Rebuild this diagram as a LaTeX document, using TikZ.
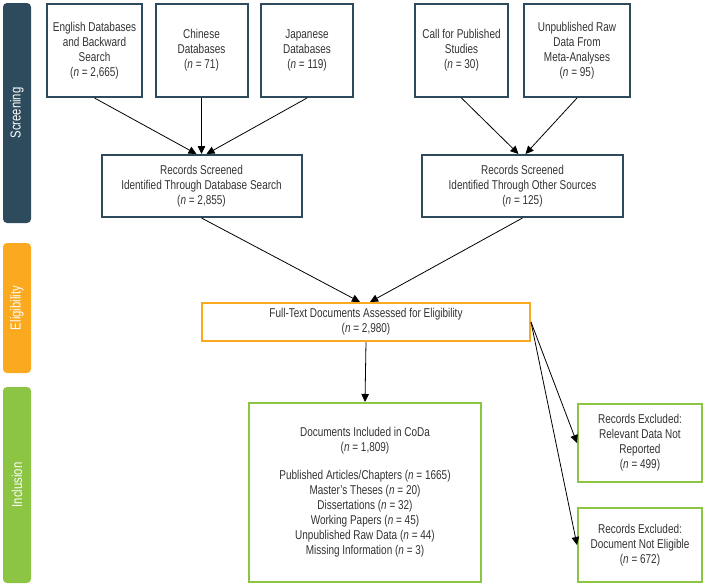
\documentclass[tikz,border=0pt]{standalone}
\usepackage{fontspec}
\setmainfont{Liberation Sans}[FakeStretch=0.78]
\usetikzlibrary{arrows.meta}
\definecolor{navy}{HTML}{2D4B5C}
\definecolor{orng}{HTML}{FBA91E}
\definecolor{grn}{HTML}{8CC443}
\definecolor{txt}{HTML}{333333}
\tikzset{
  box/.style={draw, line width=2pt, align=center, inner sep=0pt, text=txt, fill=white},
  navybox/.style={box, draw=navy},
  orngbox/.style={box, draw=orng},
  grnbox/.style={box, draw=grn},
  sidebar/.style={rounded corners=4pt, text=white, rotate=90, inner sep=0pt, minimum height=28pt, font=\fontsize{14.5}{15}\selectfont},
  conn/.style={draw=black, line width=0.8pt, -{Triangle[length=8pt,width=7.5pt]}}
}
\begin{document}
\begin{tikzpicture}[x=1pt, y=-1pt, font=\fontsize{12.8}{15}\selectfont]
\useasboundingbox (0,0) rectangle (705,587);
% side bars
\node[sidebar, fill=navy, minimum width=220pt] (sb1) at (17,113) {Screening};
\node[sidebar, fill=orng, minimum width=130pt] (sb2) at (17,308) {Eligibility};
\node[sidebar, fill=grn, minimum width=196pt] (sb3) at (17,485) {Inclusion};
% top boxes
\node[navybox, minimum width=95pt, minimum height=93pt] (eng) at (94.5,50.5) {English Databases\\and Backward\\Search\\(\textit{n} = 2,665)};
\node[navybox, minimum width=92pt, minimum height=93pt] (chi) at (201.5,50.5) {Chinese\\Databases\\(\textit{n} = 71)};
\node[navybox, minimum width=92pt, minimum height=93pt] (jap) at (307,50.5) {Japanese\\Databases\\(\textit{n} = 119)};
\node[navybox, minimum width=93pt, minimum height=93pt] (call) at (461.5,50.5) {Call for Published\\Studies\\(\textit{n} = 30)};
\node[navybox, minimum width=106pt, minimum height=93pt] (unp) at (577,50.5) {Unpublished Raw\\Data From\\Meta-Analyses\\(\textit{n} = 95)};
% records
\node[navybox, minimum width=200pt, minimum height=62pt] (rec1) at (201.5,186) {Records Screened\\Identified Through Database Search\\(\textit{n} = 2,855)};
\node[navybox, minimum width=201pt, minimum height=62pt] (rec2) at (522.5,186) {Records Screened\\Identified Through Other Sources\\(\textit{n} = 125)};
% full text
\node[orngbox, minimum width=328pt, minimum height=38pt] (full) at (366,322) {Full-Text Documents Assessed for Eligibility\\(\textit{n} = 2,980)};
% inclusion
\node[grnbox, minimum width=232pt, minimum height=179pt] (docs) at (365,492.5) {Documents Included in CoDa\\(\textit{n} = 1,809)\\[13pt]Published Articles/Chapters (\textit{n} = 1665)\\Master’s Theses (\textit{n} = 20)\\Dissertations (\textit{n} = 32)\\Working Papers (\textit{n} = 45)\\Unpublished Raw Data (\textit{n} = 44)\\Missing Information (\textit{n} = 3)};
\node[grnbox, minimum width=124pt, minimum height=78pt] (ex1) at (640,443) {Records Excluded:\\Relevant Data Not\\Reported\\(\textit{n} = 499)};
\node[grnbox, minimum width=124pt, minimum height=74pt] (ex2) at (640,545) {Records Excluded:\\Document Not Eligible\\(\textit{n} = 672)};
% connectors
\draw[conn] (eng.south) -- ([xshift=-5pt]rec1.north);
\draw[conn] (chi.south) -- (rec1.north);
\draw[conn] (jap.south) -- ([xshift=5pt]rec1.north);
\draw[conn] (call.south) -- ([xshift=-4pt]rec2.north);
\draw[conn] (unp.south) -- ([xshift=3pt]rec2.north);
\draw[conn] (rec1.south) -- ([xshift=-6pt]full.north);
\draw[conn] (rec2.south) -- ([xshift=4pt]full.north);
\draw[conn] (full.south) -- (docs.north);
\draw[conn] (full.east) -- (ex1.west);
\draw[conn] (full.east) -- (ex2.west);
\end{tikzpicture}
\end{document}
